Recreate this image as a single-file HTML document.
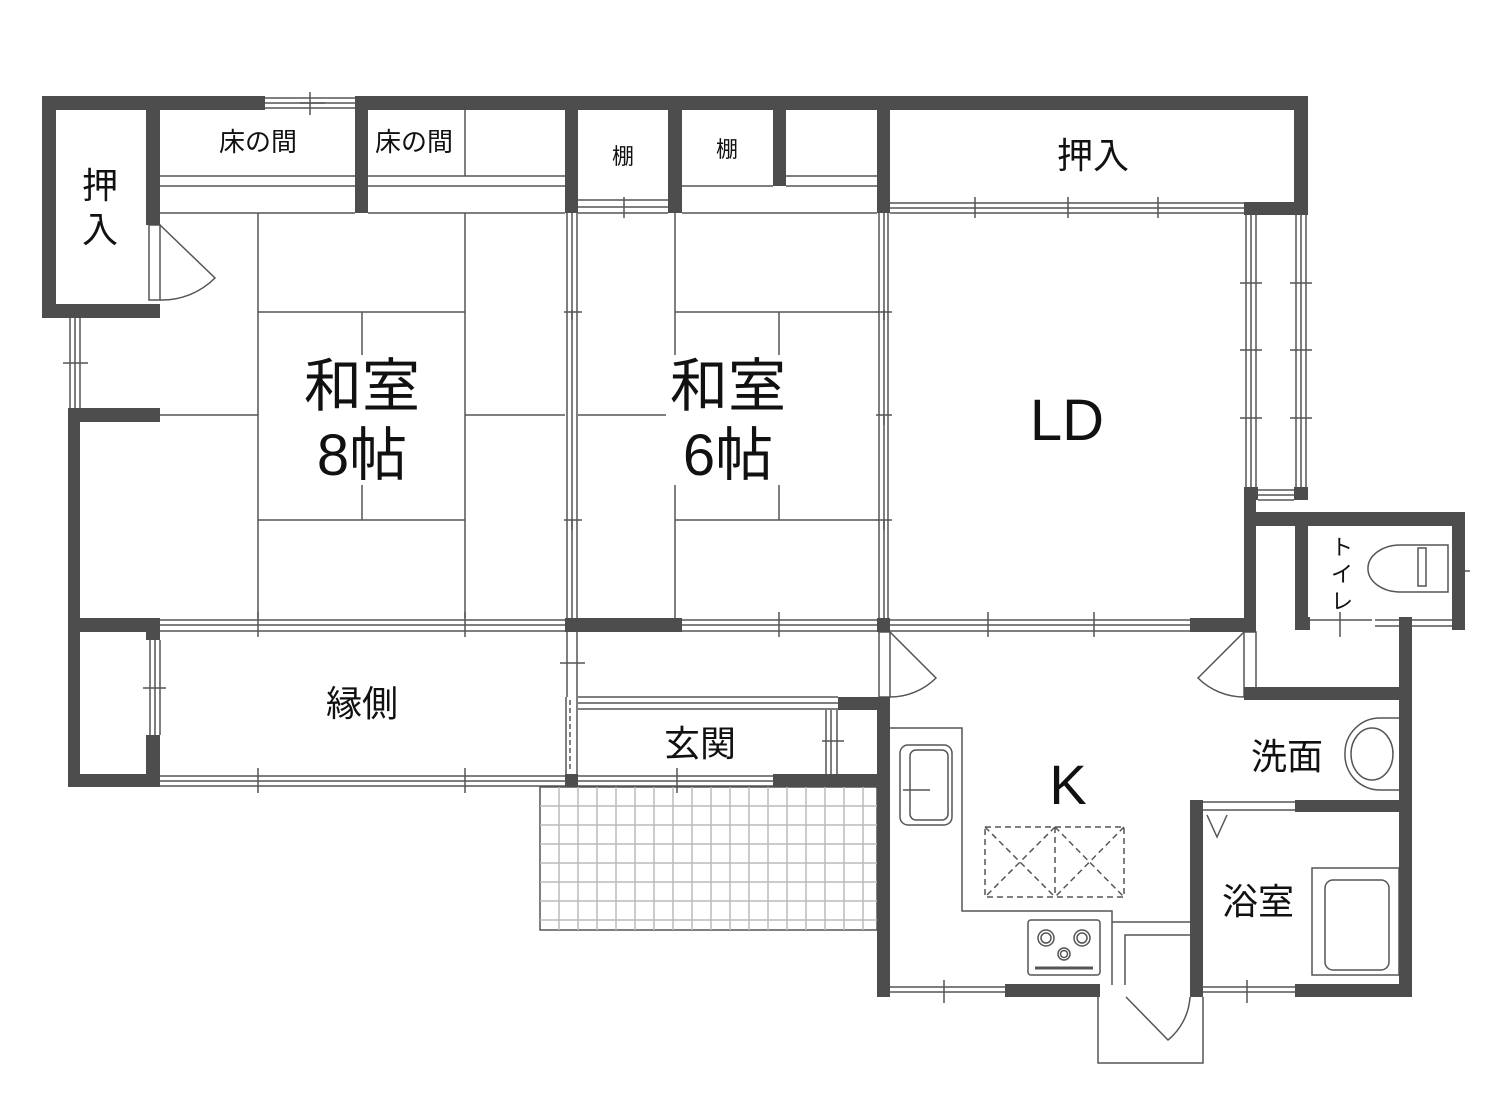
<!DOCTYPE html>
<html><head><meta charset="utf-8"><style>
html,body{margin:0;padding:0;background:#fff;}
svg{display:block;}
text{font-family:"Liberation Sans","Noto Sans CJK JP",sans-serif;fill:#111;text-anchor:middle;}
</style></head><body>
<svg width="1500" height="1100" viewBox="0 0 1500 1100" xmlns="http://www.w3.org/2000/svg">
<!-- tile area -->
<g stroke="#bbb" stroke-width="1.5">
<rect x="540" y="787" width="337" height="143" fill="#fff" stroke="#555"/>
<path d="M559 787V930M578 787V930M597 787V930M616 787V930M635 787V930M654 787V930M673 787V930M692 787V930M711 787V930M730 787V930M749 787V930M768 787V930M787 787V930M806 787V930M825 787V930M844 787V930M863 787V930
M540 806H877M540 825H877M540 844H877M540 863H877M540 882H877M540 901H877M540 920H877"/>
</g>
<g fill="none" stroke="#555" stroke-width="1.5">
<!-- tokonoma lines -->
<path d="M160 176H355M160 186H355M160 213H355M368 176H565M368 186H565M368 213H565M465 110V176"/>
<path d="M578 200H668M578 207H668M578 213H668M682 186H773M786 176H877M786 186H877M682 213H877"/>
<path d="M890 203H1244M890 208H1244M890 213H1244"/>
<!-- 8 tatami -->
<path d="M258 213V618M465 213V618M258 312H465M258 520H465M362 312V355M362 485V520M160 415H258M465 415H565"/>
<!-- 6 tatami -->
<path d="M675 213V618M675 312H877M675 520H877M779 312V355M779 485V520M578 415H675"/>
<!-- sliding verticals -->
<path d="M567 213V630M572 213V630M577 213V630M879 213V630M884 213V630M888 213V630"/>
<path d="M567 632V697M577 632V697"/>
<!-- bay window -->
<path d="M1246 215V488M1251 215V488M1256 215V488M1296 215V488M1301 215V488M1306 215V488M1258 490H1294M1258 495H1294M1258 500H1294"/>
<!-- horizontal sliding line 618-632 -->
<path d="M160 620H565M160 625H565M160 631H565M682 620H877M682 625H877M682 631H877M890 620H1190M890 625H1190M890 631H1190"/>
<path d="M160 776H565M160 781H565M160 786H565"/>
<path d="M578 697H838M578 703H838M578 709H838M578 776H773M578 781H773M578 786H773"/>
<path d="M826 710V774M831 710V774M837 710V774"/>
<path d="M566 697V774M577 697V774"/>
<path d="M570 700V772" stroke-dasharray="5 3"/>
<!-- left windows -->
<path d="M70 318V408M75 318V408M80 318V408M150 640V735M155 640V735M160 640V735"/>
<!-- top window -->
<path d="M265 98H355M265 103H355M265 108H355"/>
<!-- doors -->
<rect x="149" y="225" width="11" height="75" fill="#fff"/>
<path d="M160 225L215 278A75 75 0 0 1 160 300"/>
<rect x="879" y="632" width="11" height="65" fill="#fff"/>
<path d="M890 632L936 678A65 65 0 0 1 890 697"/>
<rect x="1244" y="632" width="12" height="65" fill="#fff"/>
<path d="M1244 632L1198 678A65 65 0 0 0 1244 697"/>
<!-- kitchen counter -->
<path d="M890 728H962V911H1112V985M890 920"/>
<path d="M1112 922H1190M1125 985V935H1190"/>
<rect x="1028" y="920" width="72" height="55" rx="3"/>
<circle cx="1046" cy="938" r="8"/><circle cx="1046" cy="938" r="5"/>
<circle cx="1082" cy="938" r="8"/><circle cx="1082" cy="938" r="5"/>
<circle cx="1064" cy="954" r="6"/><circle cx="1064" cy="954" r="3.5"/>
<path d="M1035 968H1093" stroke-width="3"/>
<rect x="900" y="745" width="52" height="80" rx="8"/>
<rect x="910" y="750" width="38" height="70" rx="6"/>
<path d="M903 790H930"/>
<g stroke-dasharray="6 4">
<rect x="985" y="827" width="139" height="70"/>
<path d="M1055 827V897M985 827L1055 897M1055 827L985 897M1055 827L1124 897M1124 827L1055 897"/>
</g>
<!-- bottom door outside -->
<path d="M1098 997V1063H1203V997M1126 997L1168 1040A60 60 0 0 0 1190 997"/>
<path d="M890 987H1005M890 992H1005M1203 987H1295M1203 992H1295M1203 802H1295M1203 810H1295"/>
<path d="M1207 815L1217 837L1227 815"/>
<!-- bath -->
<rect x="1312" y="868" width="87" height="107"/>
<rect x="1325" y="880" width="64" height="90" rx="8"/>
<!-- washbasin -->
<path d="M1399 718H1380A35 35 0 0 0 1345 753A35 35 0 0 0 1380 790H1399"/>
<ellipse cx="1372" cy="754" rx="21" ry="26"/>
<!-- toilet -->
<path d="M1448 545H1400A30 22 0 0 0 1400 592H1448Z"/>
<rect x="1418" y="548" width="8" height="38"/>
<path d="M1454 526V617M1460 526V617M1310 620H1372M1375 620H1452M1375 626H1452"/>
<!-- tick marks -->
<path d="M310 92V115M300 103H325M572 310V320M564 312H582M572 520V530M564 520H582M884 310V320M876 312H892M884 415V425M876 415H892M884 520V530M876 520H892M975 197V218M1068 197V218M1158 197V218M1240 283H1262M1290 283H1312M1240 350H1262M1290 350H1312M1240 418H1262M1290 418H1312M624 197V218M258 612V637M465 612V637M779 612V637M988 612V637M1094 612V637M258 768V793M465 768V793M677 768V793M944 980V1003M1247 980V1003M1340 612V637M1462 562V580M1452 571H1470M63 363H88M143 688H166M822 741H844M560 663H585"/>
</g>
<!-- walls -->
<g fill="#4d4d4d">
<rect x="42" y="96" width="223" height="14"/><rect x="355" y="96" width="953" height="14"/>
<rect x="42" y="96" width="14" height="222"/>
<rect x="42" y="304" width="118" height="14"/>
<rect x="146" y="110" width="14" height="115"/>
<rect x="68" y="408" width="92" height="14"/>
<rect x="68" y="408" width="12" height="379"/>
<rect x="68" y="618" width="92" height="14"/>
<rect x="68" y="774" width="92" height="13"/>
<rect x="146" y="618" width="14" height="22"/><rect x="146" y="735" width="14" height="52"/>
<rect x="355" y="96" width="13" height="117"/>
<rect x="565" y="96" width="13" height="117"/>
<rect x="668" y="96" width="14" height="117"/>
<rect x="773" y="96" width="13" height="90"/>
<rect x="877" y="96" width="13" height="117"/>
<rect x="1294" y="96" width="14" height="119"/>
<rect x="1244" y="202" width="64" height="13"/>
<rect x="1244" y="487" width="14" height="13"/><rect x="1294" y="487" width="14" height="13"/>
<rect x="565" y="618" width="117" height="14"/>
<rect x="877" y="618" width="13" height="14"/>
<rect x="1190" y="618" width="66" height="14"/>
<rect x="1244" y="500" width="12" height="132"/>
<rect x="1244" y="512" width="221" height="14"/>
<rect x="1295" y="512" width="13" height="118"/>
<rect x="1295" y="617" width="15" height="13"/>
<rect x="1452" y="512" width="13" height="118"/>
<rect x="1399" y="617" width="13" height="380"/>
<rect x="1244" y="687" width="168" height="13"/>
<rect x="1190" y="800" width="13" height="197"/>
<rect x="1295" y="800" width="117" height="12"/>
<rect x="1295" y="984" width="117" height="13"/>
<rect x="838" y="697" width="52" height="13"/>
<rect x="877" y="697" width="13" height="300"/>
<rect x="773" y="774" width="117" height="13"/>
<rect x="565" y="774" width="13" height="13"/>
<rect x="877" y="984" width="13" height="13"/>
<rect x="1005" y="984" width="95" height="13"/>
</g>
<!-- labels -->
<text x="100" y="198" font-size="36">押</text>
<text x="100" y="242" font-size="36">入</text>
<text x="258" y="151" font-size="26">床の間</text>
<text x="414" y="151" font-size="26">床の間</text>
<text x="623" y="164" font-size="22">棚</text>
<text x="727" y="157" font-size="22">棚</text>
<text x="1093" y="168" font-size="36">押入</text>
<rect x="300" y="355" width="124" height="130" fill="#fff"/>
<rect x="666" y="355" width="124" height="130" fill="#fff"/>
<text x="362" y="406" font-size="58">和室</text>
<text x="362" y="475" font-size="58">8帖</text>
<text x="728" y="406" font-size="58">和室</text>
<text x="728" y="475" font-size="58">6帖</text>
<text x="1067" y="440" font-size="58">LD</text>
<text x="362" y="716" font-size="36">縁側</text>
<text x="700" y="756" font-size="36">玄関</text>
<text x="1068" y="804" font-size="56">K</text>
<text x="1287" y="769" font-size="36">洗面</text>
<text x="1258" y="914" font-size="36">浴室</text>
<text x="1342" y="555" font-size="22">ト</text>
<text x="1342" y="582" font-size="22">イ</text>
<text x="1342" y="609" font-size="22">レ</text>
</svg>
</body></html>
